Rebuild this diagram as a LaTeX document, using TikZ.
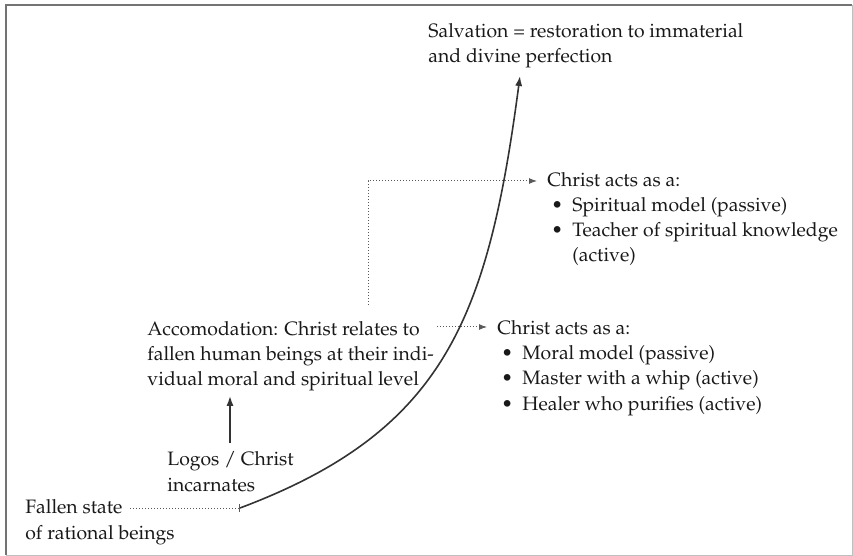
\documentclass[tikz,border=0pt]{standalone}
\usepackage[T1]{fontenc}
\usepackage{mathpazo}
\usetikzlibrary{arrows.meta, positioning}

\newcommand{\bul}[1]{\makebox[12.5pt][l]{\hspace{2pt}\textbullet}#1}
\newcommand{\nobul}[1]{\hspace*{12.5pt}#1}

\begin{document}
\begin{tikzpicture}[
    x=0.5pt, y=-0.5pt,
    txt/.style={anchor=base west, align=left, inner sep=0pt, text=black!90, font=\fontsize{9.7}{12.6}\selectfont},
    arrow/.style={-{Latex[length=5pt, width=3.6pt]}, line width=0.8pt, black!80},
    dots/.style={densely dotted, line width=0.5pt, black!65},
    dotarrow/.style={densely dotted, line width=0.5pt, black!65, -{Latex[length=4pt, width=3pt]}},
]
\useasboundingbox (0,0) rectangle (853,556);

% frame
\draw[black!55, line width=1.4pt] (852,5) -- (6,5) -- (6,555);
\draw[black!25, thin] (6,555) -- (852,555) -- (852,5);

% base of a node = baseline of its last line
\node[txt] (salv) at (428,63) {Salvation = restoration to immaterial\\and divine perfection};
\node[txt] (fallen) at (25,539) {Fallen state\\of rational beings};
\node[txt] (logos) at (167,491) {Logos / Christ\\incarnates};
\node[txt] (accom) at (147,386) {Accomodation: Christ relates to\\fallen human beings at their indi-\\vidual moral and spiritual level};

\node[txt] (head1) at (497,335) {Christ acts as a:};
\node[txt] (list1) at (497,410) {\bul{Moral model (passive)}\\\bul{Master with a whip (active)}\\\bul{Healer who purifies (active)}};

\node[txt] (head2) at (547,187) {Christ acts as a:};
\node[txt] (list2) at (547,262) {\bul{Spiritual model (passive)}\\\bul{Teacher of spiritual knowledge}\\\nobul{(active)}};

\coordinate (start) at (240,508);
\coordinate (goal) at (520,76);
\coordinate (fallenout) at (130,508);
\coordinate (accomout) at (437,327);
\coordinate (lift) at (368,305);
\coordinate (turn) at (368,181);

% main curve
\draw[arrow] (start) .. controls (445,431) and (488,318) .. (goal);
\draw[dots, -{Bar[width=4pt]}] (fallenout) -- (start);

\draw[arrow] (230,443) -- (230,396);

% dotted links
\draw[dotarrow, shorten >=5pt] (accomout) -- (head1.west |- accomout);
\draw[dotarrow, shorten >=5pt] (lift) -- (turn) -- (head2.west |- turn);

\end{tikzpicture}
\end{document}
